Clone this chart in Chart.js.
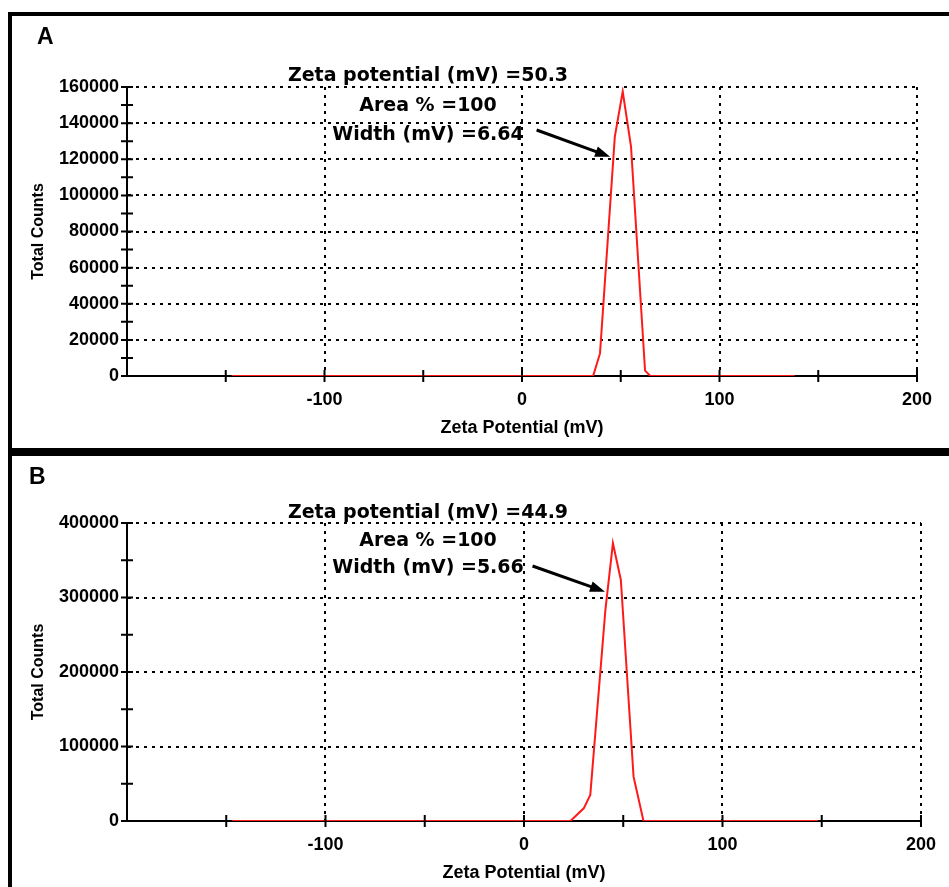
<!DOCTYPE html>
<html>
<head>
<meta charset="utf-8">
<script src="https://cdn.jsdelivr.net/npm/chart.js@4.4.1/dist/chart.umd.min.js"></script>
<style>
  body { margin: 0; background: #fff; overflow: hidden; width: 949px; height: 887px; position: relative; }
  canvas { position: absolute; left: 0; }
  .panel { position: absolute; left: 8px; width: 1000px; border: 4px solid #000; border-right: none; box-sizing: border-box; }
  .tag { position: absolute; font: bold 23px "Liberation Sans", Arial, sans-serif; line-height: 23px; color: #000; }
  .note { position: absolute; left: 228px; width: 400px; text-align: center; color: #000;
          font: bold 19px "DejaVu Sans", sans-serif; }
</style>
</head>
<body>

<div class="panel" style="top:12px; height:440px;"></div>
<div class="panel" style="top:452px; height:500px;"></div>

<canvas id="chartA" width="949" height="450" style="top:0px"></canvas>
<canvas id="chartB" width="949" height="437" style="top:450px"></canvas>

<div class="tag" style="left:37px; top:25px;">A</div>
<div class="tag" style="left:29px; top:465px;">B</div>

<div class="note" style="top:60px; line-height:29.5px;">
  Zeta potential (mV) =50.3<br>Area % =100<br>Width (mV) =6.64
</div>
<div class="note" style="top:498px; line-height:27.5px;">
  Zeta potential (mV) =44.9<br>Area % =100<br>Width (mV) =5.66
</div>

<script>
// panel A - zeta potential distribution
var zetaA = [-147, 36, 39.5, 47, 51, 55.2, 62.3, 65, 138];
var countsA = [0, 0, 12500, 132500, 157500, 127000, 3000, 0, 0];

// panel B
var zetaB = [-147, 23.4, 30.1, 33.4, 41, 44.8, 48.8, 55.2, 60.2, 148];
var countsB = [0, 0, 17000, 35000, 283000, 372800, 323500, 59500, 0, 0];

// axis ticks
var xLabels = [-100, 0, 100, 200];
var xTickMarks = [-150, -100, -50, 0, 50, 100, 150, 200];
var yTickMarksA = [0, 10000, 20000, 30000, 40000, 50000, 60000, 70000, 80000,
                   90000, 100000, 110000, 120000, 130000, 140000, 150000, 160000];
var yTickMarksB = [0, 50000, 100000, 150000, 200000, 250000, 300000, 350000, 400000];

// arrows [tail, tip] in data units
var arrowA = [[7.4, 136200], [44.6, 121400]];
var arrowB = [[4.3, 342300], [40.8, 307800]];

var FONT = '"Liberation Sans", Arial, sans-serif';

// tick marks crossing the axes + the pointer arrow
var marksPlugin = {
    id: 'marks',
    afterDraw: function(chart, args, opts) {
        var ctx = chart.ctx;
        var xs = chart.scales.x, ys = chart.scales.y;
        var area = chart.chartArea;
        ctx.save();
        ctx.strokeStyle = '#000';
        ctx.lineWidth = 2;
        ctx.beginPath();
        opts.xTicks.forEach(function(v) {
            var px = xs.getPixelForValue(v);
            ctx.moveTo(px, area.bottom - 6);
            ctx.lineTo(px, area.bottom + 6);
        });
        opts.yTicks.forEach(function(v) {
            var py = ys.getPixelForValue(v);
            ctx.moveTo(area.left - 6, py);
            ctx.lineTo(area.left + 6, py);
        });
        ctx.stroke();

        var x1 = xs.getPixelForValue(opts.arrow[0][0]), y1 = ys.getPixelForValue(opts.arrow[0][1]);
        var x2 = xs.getPixelForValue(opts.arrow[1][0]), y2 = ys.getPixelForValue(opts.arrow[1][1]);
        var ang = Math.atan2(y2 - y1, x2 - x1);
        var head = 15, half = 5.5;
        ctx.lineWidth = 3;
        ctx.beginPath();
        ctx.moveTo(x1, y1);
        ctx.lineTo(x2 - head * 0.8 * Math.cos(ang), y2 - head * 0.8 * Math.sin(ang));
        ctx.stroke();
        ctx.fillStyle = '#000';
        ctx.beginPath();
        ctx.moveTo(x2, y2);
        ctx.lineTo(x2 - head * Math.cos(ang) + half * Math.sin(ang), y2 - head * Math.sin(ang) - half * Math.cos(ang));
        ctx.lineTo(x2 - head * Math.cos(ang) - half * Math.sin(ang), y2 - head * Math.sin(ang) + half * Math.cos(ang));
        ctx.closePath();
        ctx.fill();
        ctx.restore();
    }
};

function makeChart(id, xs, ys, yMax, yStep, yTicks, arrow, pad, xHeight, titlePad) {
    var pts = xs.map(function(x, i) { return { x: x, y: ys[i] }; });
    var ctx = document.getElementById(id).getContext('2d');
    return new Chart(ctx, {
        type: 'line',
        data: {
            datasets: [{
                data: pts,
                borderColor: '#ff1a1a',
                borderWidth: 2,
                pointRadius: 0,
                tension: 0,
                fill: false
            }]
        },
        options: {
            responsive: false,
            animation: false,
            devicePixelRatio: 1,
            layout: { padding: pad },
            plugins: {
                legend: { display: false },
                tooltip: { enabled: false },
                marks: { xTicks: xTickMarks, yTicks: yTicks, arrow: arrow }
            },
            scales: {
                x: {
                    type: 'linear',
                    min: -200,
                    max: 200,
                    afterFit: function(s) { s.height = xHeight; },
                    ticks: {
                        stepSize: 100,
                        maxRotation: 0,
                        padding: 13,
                        color: '#000',
                        font: { family: FONT, size: 18, weight: 'bold' },
                        callback: function(v) { return xLabels.indexOf(v) >= 0 ? String(v) : ''; }
                    },
                    grid: {
                        drawTicks: false,
                        lineWidth: 2,
                        color: function(c) {
                            return c.tick && xLabels.indexOf(c.tick.value) >= 0 ? '#000' : 'rgba(0,0,0,0)';
                        }
                    },
                    border: { display: true, color: '#000', width: 2, dash: [3, 5] },
                    title: {
                        display: true,
                        text: 'Zeta Potential (mV)',
                        color: '#000',
                        font: { family: FONT, size: 18, weight: 'bold' },
                        padding: { top: 0, bottom: titlePad }
                    }
                },
                y: {
                    min: 0,
                    max: yMax,
                    afterFit: function(s) { s.width = 127; },
                    ticks: {
                        stepSize: yStep,
                        padding: 8,
                        color: '#000',
                        font: { family: FONT, size: 18, weight: 'bold' },
                        callback: function(v) { return String(v); }
                    },
                    grid: {
                        drawTicks: false,
                        lineWidth: 2,
                        color: function(c) {
                            return c.tick && c.tick.value === 0 ? 'rgba(0,0,0,0)' : '#000';
                        }
                    },
                    border: { display: true, color: '#000', width: 2, dash: [3, 5] },
                    title: {
                        display: true,
                        text: 'Total Counts',
                        color: '#000',
                        font: { family: FONT, size: 16, weight: 'bold' },
                        padding: { top: 29, bottom: 0 }
                    }
                }
            }
        },
        plugins: [marksPlugin]
    });
}

makeChart('chartA', zetaA, countsA, 160000, 20000, yTickMarksA, arrowA,
          { left: 0, right: 32, top: 87, bottom: 0 }, 74, 11);
makeChart('chartB', zetaB, countsB, 400000, 100000, yTickMarksB, arrowB,
          { left: 0, right: 23, top: 73, bottom: 0 }, 66, 3);
</script>
</body>
</html>
